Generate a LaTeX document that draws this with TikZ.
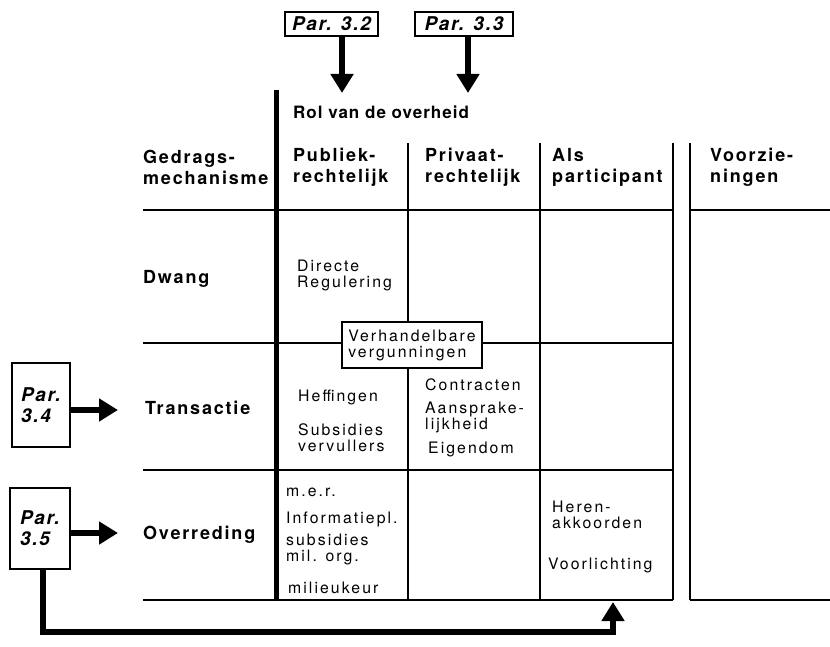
\documentclass[tikz,border=0pt]{standalone}
\usepackage{fontspec}
\setmainfont{TeX Gyre Heros}
\newfontfamily\cellfont[LetterSpace=13]{TeX Gyre Heros}
\newfontfamily\headfont[LetterSpace=10]{TeX Gyre Heros}
\newfontfamily\rolfont[LetterSpace=6]{TeX Gyre Heros}
\newfontfamily\parfont[LetterSpace=9]{TeX Gyre Heros}
\usetikzlibrary{arrows.meta}

\begin{document}
\begin{tikzpicture}[x=1pt, y=-1pt,
    grid/.style={line width=1.3pt},
    head/.style={anchor=west, inner sep=0pt, align=left, font=\headfont\bfseries\fontsize{18}{21}\selectfont},
    cell/.style={anchor=west, inner sep=0pt, align=left, font=\cellfont\fontsize{15.8}{16}\selectfont},
    parbox/.style={draw, line width=1.2pt, inner sep=0pt, align=left, font=\parfont\bfseries\itshape\fontsize{19}{21}\selectfont},
    bigarrow/.style={line width=6pt, -{Triangle[width=22pt,length=19pt]}}]
    \useasboundingbox (0,0) rectangle (830,647);

    % table
    \draw[grid] (143,210) -- (673,210) (690,210) -- (830,210);
    \draw[grid] (143,343) -- (673,343);
    \draw[grid] (143,470) -- (673,470);
    \draw[grid] (143,600) -- (673,600) (690,600) -- (830,600);
    \draw[grid] (408,143) -- (408,600) (540,143) -- (540,600)
                (673,143) -- (673,600) (690,143) -- (690,600);
    \draw[line width=5pt] (276,90) -- (276,600);

    % headings
    \node[head, font=\rolfont\bfseries\fontsize{17}{20}\selectfont] (rol) at (293,112) {Rol van de overheid};
    \node[head] (gedrag) at (143,167) {Gedrags-\\mechanisme};
    \node[head] (publiek) at (293,167) {Publiek-\\rechtelijk};
    \node[head] (privaat) at (425,167) {Privaat-\\rechtelijk};
    \node[head] (partic) at (552,167) {Als\\participant};
    \node[head] (voorz) at (710,167) {Voorzie-\\ningen};

    \node[head] (dwang) at (143,279) {Dwang};
    \node[head] (trans) at (145,408) {Transactie};
    \node[head] (overr) at (143,535) {Overreding};

    % cells
    \node[cell] (direct) at (297,275) {Directe\\Regulering};
    \node[cell] (heff) at (298,397) {Heffingen};
    \node[cell] (subs) at (298,438) {Subsidies\\vervullers};
    \node[cell] (contr) at (425,385) {Contracten};
    \node[cell] (aansp) at (425,417) {Aansprake-\\lijkheid};
    \node[cell] (eigen) at (428,449) {Eigendom};
    \node[cell] (mer) at (286,492) {m.e.r.};
    \node[cell] (info) at (286,519) {Informatiepl.};
    \node[cell] (subsmil) at (286,549) {subsidies\\mil. org.};
    \node[cell] (keur) at (288,588) {milieukeur};
    \node[cell] (heren) at (552,515) {Heren-\\akkoorden};
    \node[cell] (voorl) at (548,565) {Voorlichting};

    \node[cell, anchor=center, draw, fill=white, line width=1.2pt, inner sep=4pt,
          minimum width=140pt, minimum height=46pt] (verh) at (412,345) {Verhandelbare\\vergunningen};

    % paragraph references
    \node[parbox, minimum width=93pt, minimum height=24pt] (p32) at (331.5,24) {Par. 3.2};
    \node[parbox, minimum width=98pt, minimum height=24pt] (p33) at (464,24) {Par. 3.3};
    \node[parbox, minimum width=58pt, minimum height=84pt] (p34) at (41,405) {Par.\\3.4};
    \node[parbox, minimum width=60pt, minimum height=81pt] (p35) at (40,528.5) {Par.\\3.5};

    \coordinate (t32) at (342,93);
    \coordinate (t33) at (468,93);
    \coordinate (t34) at (118,410);
    \coordinate (t35) at (118,533);
    \coordinate (c35) at (43,632);
    \coordinate (t36) at (613,602);

    \draw[bigarrow] (p32.south -| t32) -- (t32);
    \draw[bigarrow] (p33.south -| t33) -- (t33);
    \draw[bigarrow] (p34.east |- t34) -- (t34);
    \draw[bigarrow] (p35.east |- t35) -- (t35);
    \draw[bigarrow] (p35.south -| c35) -- (c35) -| (t36);
\end{tikzpicture}
\end{document}
